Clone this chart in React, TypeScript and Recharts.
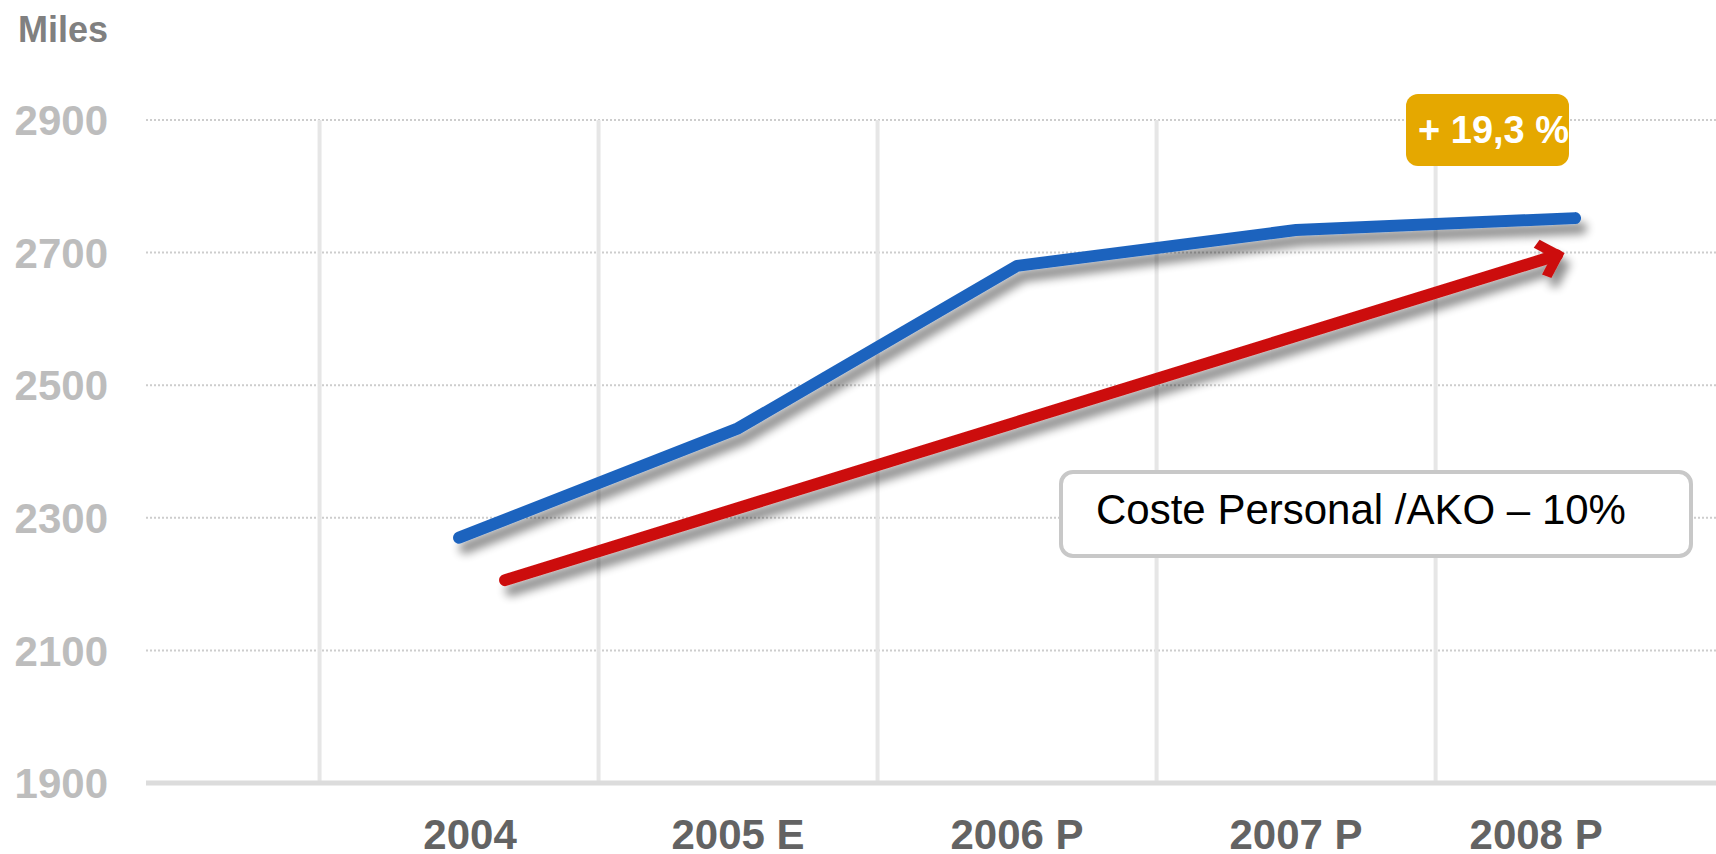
import React from 'react';
import { LineChart, Line, XAxis, YAxis, CartesianGrid } from 'recharts';

const categories = ['2004', '2005 E', '2006 P', '2007 P', '2008 P'];
const blueValues = [2270, 2435, 2680, 2734, 2752];
const redX = [0.165, 3.935];
const redValues = [2206, 2696];
const yTicks = [1900, 2100, 2300, 2500, 2700, 2900];
const gridX = [-0.5, 0.5, 1.5, 2.5, 3.5];

const blueData = categories.map((c, i) => ({ x: i, v: blueValues[i] }));
const redData = redX.map((x, i) => ({ x, v: redValues[i] }));

const FONT = '"Liberation Sans", Arial, sans-serif';
const W = 1716;
const H = 854;

const XTick = (props: any) => {
  const { x, y, index, payload } = props;
  const shift = index === 0 ? 11 : index === categories.length - 1 ? -39 : 0;
  return (
    <text x={x + shift} y={y} dy="0.71em" textAnchor="middle" fill="#636363" fontSize={42} fontWeight="bold" fontFamily={FONT}>
      {categories[payload.value]}
    </text>
  );
};

const YTick = (props: any) => {
  const { x, y, payload } = props;
  return (
    <text x={x} y={y} dy="0.36em" textAnchor="end" fill="#BDBDBD" fontSize={42} fontWeight="bold" fontFamily={FONT}>
      {payload.value}
    </text>
  );
};

const scaleOf = (axis: any, v: number) => {
  const s = axis && axis.scale;
  if (typeof s === 'function') return s(v);
  if (s && typeof s.map === 'function') return s.map(v);
  return 0;
};

export default function App() {
  return (
    <div style={{ position: 'absolute', left: 0, top: 0, width: W, height: H, background: '#fff' }}>
      <LineChart width={W} height={H} margin={{ top: 120, right: 0, bottom: 0, left: 0 }}>
        <CartesianGrid vertical={false} stroke="#cdcdcd" strokeWidth={2} strokeDasharray="2 2" />
        <CartesianGrid
          horizontal={false}
          stroke="#e6e6e6"
          strokeWidth={4}
          verticalCoordinatesGenerator={({ xAxis }: any) => gridX.map((v) => scaleOf(xAxis, v))}
        />
        <XAxis
          type="number"
          dataKey="x"
          domain={[-1.122, 4.505]}
          allowDataOverflow
          ticks={[0, 1, 2, 3, 4]}
          height={71}
          tickSize={0}
          tickMargin={36}
          tickLine={false}
          axisLine={{ stroke: '#dcdcdc', strokeWidth: 5 }}
          tick={<XTick />}
          interval={0}
        />
        <YAxis
          type="number"
          domain={[1900, 2900]}
          allowDataOverflow
          ticks={yTicks}
          width={146}
          tickSize={0}
          tickMargin={38}
          tickLine={false}
          axisLine={false}
          tick={<YTick />}
          interval={0}
        />
        <Line
          data={redData}
          dataKey="v"
          type="linear"
          stroke="#CC1111"
          strokeWidth={12}
          strokeLinecap="round"
          dot={false}
          activeDot={false}
          isAnimationActive={false}
          markerEnd="url(#arrowHead)"
          filter="url(#lineShadow)"
        />
        <Line
          data={blueData}
          dataKey="v"
          type="linear"
          stroke="#1F64BE"
          strokeWidth={12}
          strokeLinecap="round"
          strokeLinejoin="round"
          dot={false}
          activeDot={false}
          isAnimationActive={false}
          filter="url(#lineShadow)"
        />
      </LineChart>
      <svg width={W} height={H} style={{ position: 'absolute', left: 0, top: 0, pointerEvents: 'none' }}>
        <defs>
          <filter id="lineShadow" filterUnits="userSpaceOnUse" x={0} y={0} width={W} height={H}>
            <feGaussianBlur in="SourceAlpha" stdDeviation={5} result="blur" />
            <feOffset in="blur" dx={6} dy={10} result="off" />
            <feComponentTransfer in="off" result="shadow">
              <feFuncA type="linear" slope={0.45} />
            </feComponentTransfer>
            <feMerge>
              <feMergeNode in="shadow" />
              <feMergeNode in="SourceGraphic" />
            </feMerge>
          </filter>
          <marker id="arrowHead" markerUnits="userSpaceOnUse" markerWidth={60} markerHeight={60} refX={30} refY={30} orient="auto" viewBox="0 0 60 60">
            <polygon points="38,30 18,10 10,16 24,30 10,44 18,50" fill="#CC1111" />
          </marker>
        </defs>
        <text x={18} y={42} fontSize={36} fontWeight="bold" fill="#808080" fontFamily={FONT}>Miles</text>
        <rect x={1406} y={94} width={163} height={72} rx={12} fill="#E5A800" />
        <text x={1418} y={143} fontSize={38} fontWeight="bold" fill="#ffffff" fontFamily={FONT}>+ 19,3 %</text>
        <rect x={1061} y={472} width={630} height={84} rx={12} fill="#ffffff" stroke="#c8c8c8" strokeWidth={4} />
        <text x={1096} y={524} fontSize={42} fill="#000000" fontFamily={FONT}>Coste Personal /AKO – 10%</text>
      </svg>
    </div>
  );
}
